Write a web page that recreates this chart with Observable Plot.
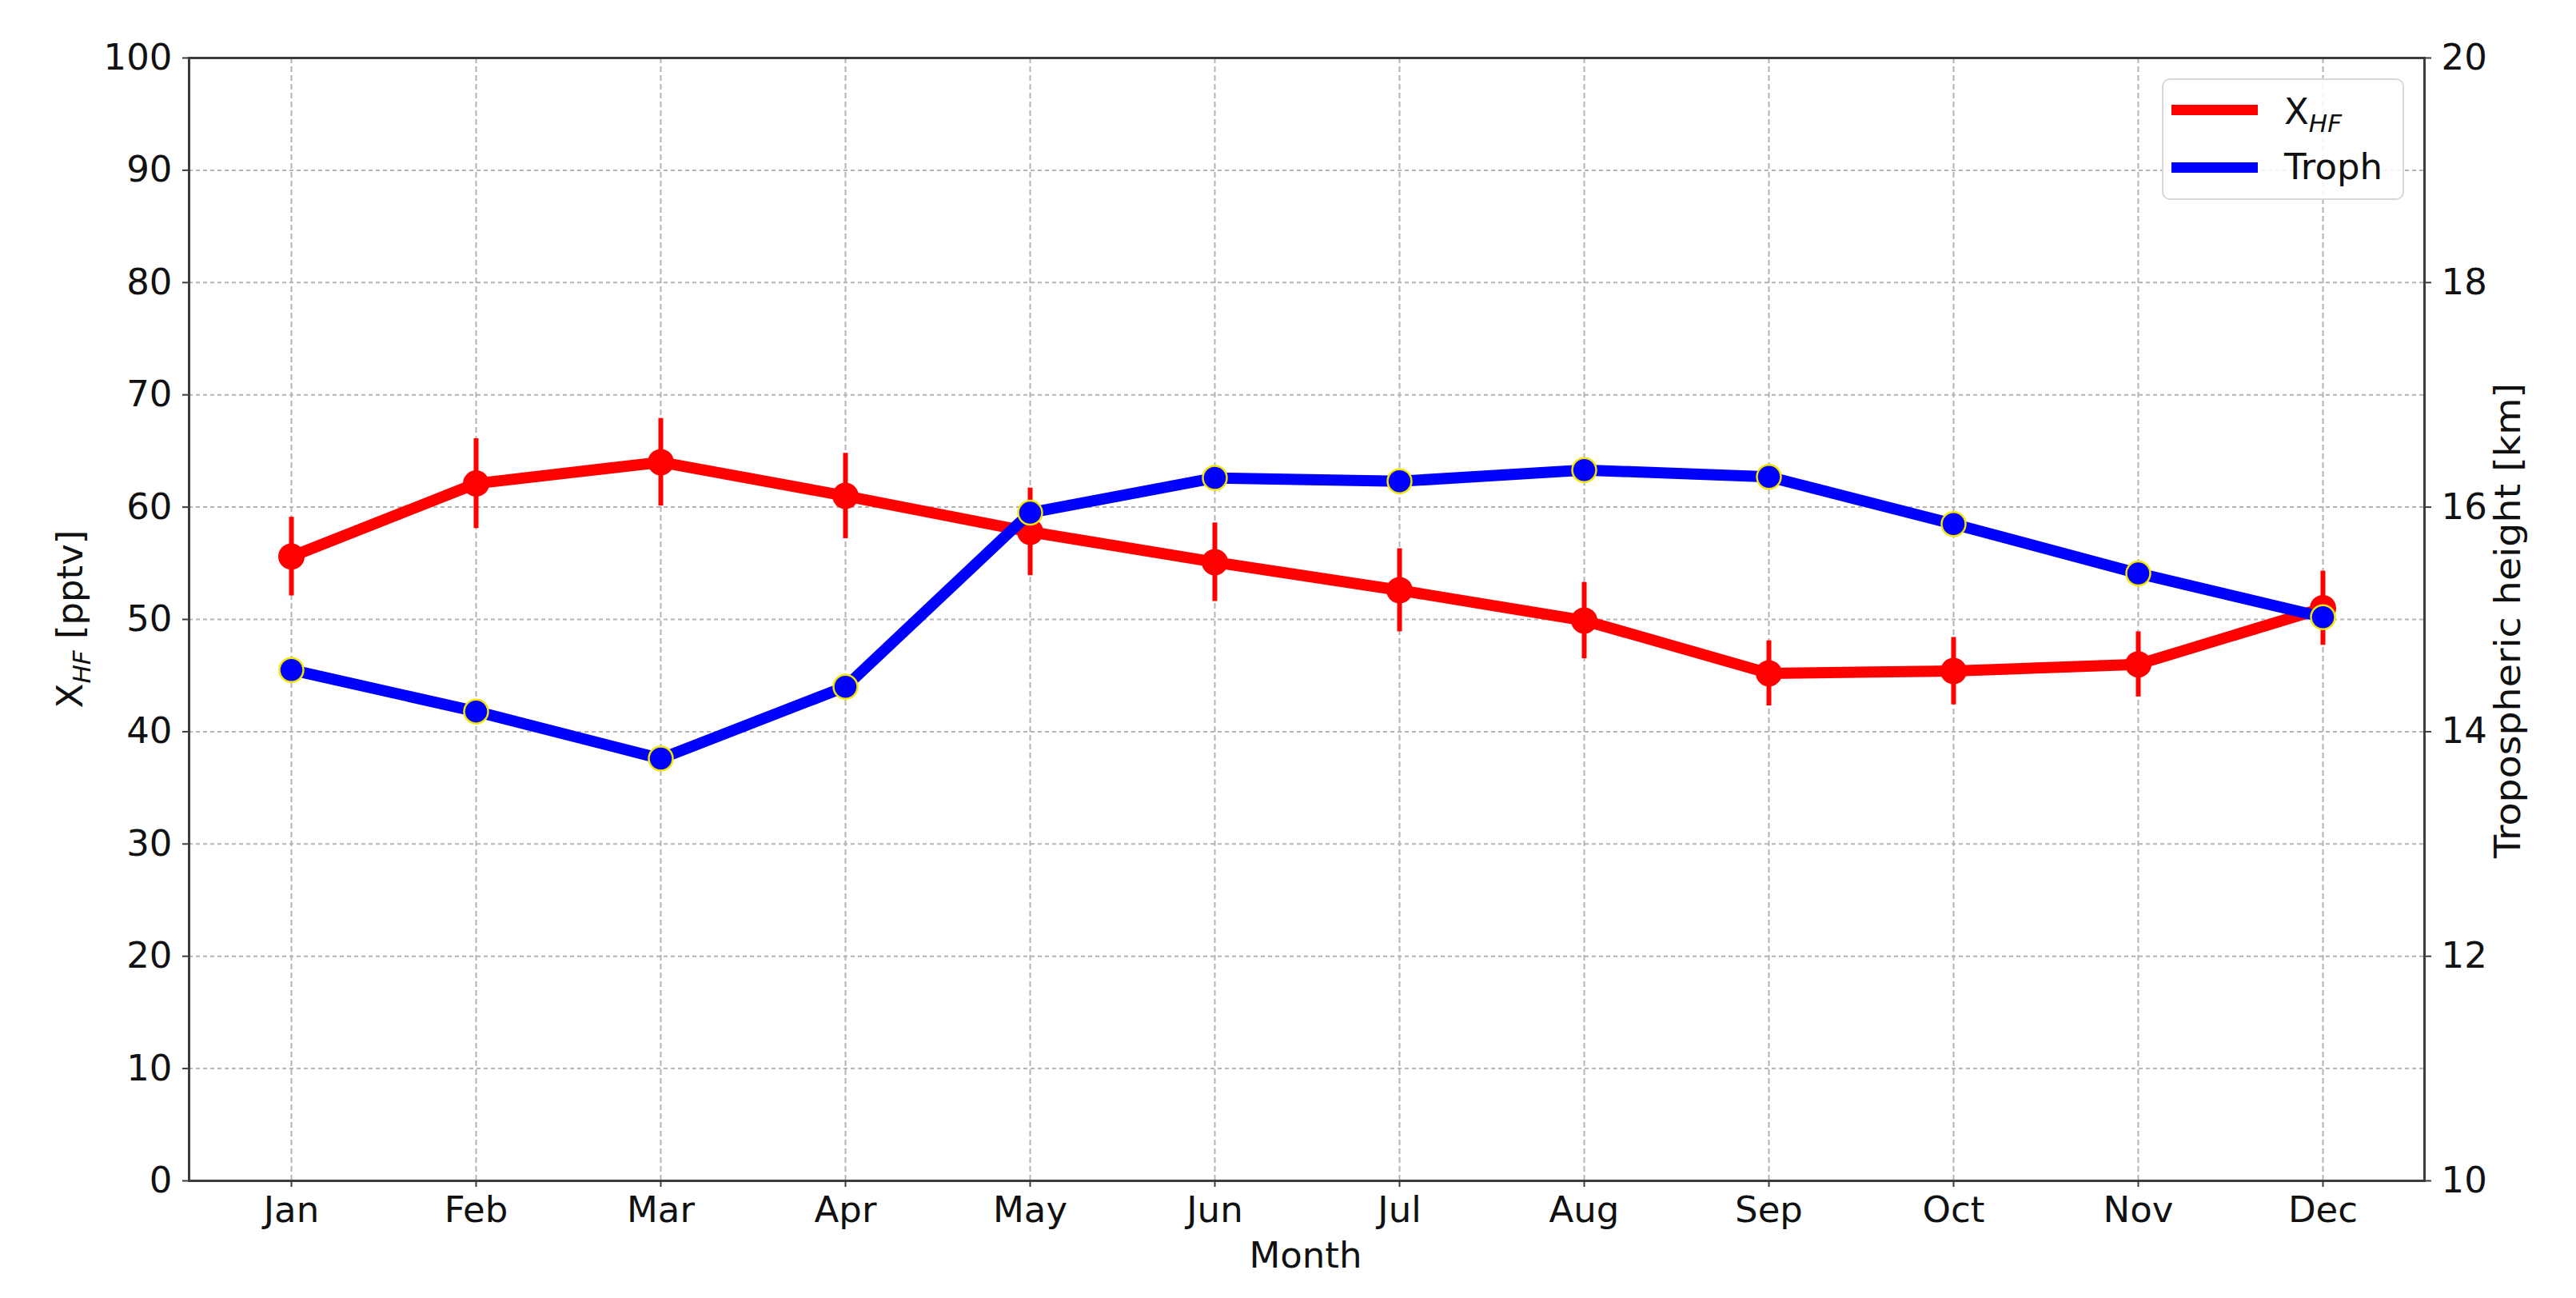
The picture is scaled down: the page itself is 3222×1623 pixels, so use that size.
<!DOCTYPE html>
<html>
<head>
<meta charset="utf-8">
<script src="https://cdn.jsdelivr.net/npm/d3@7"></script>
<script src="https://cdn.jsdelivr.net/npm/@observablehq/plot@0.6"></script>
<style>
  html, body { margin: 0; padding: 0; background: #fff; }
  #wrap { position: relative; width: 3222px; height: 1623px; font-family: "DejaVu Sans", sans-serif; }
  #legend { position: absolute; left: 2704px; top: 98px; width: 303px; height: 152px;
    border: 2px solid #d8d8d8; border-radius: 10px; background: rgba(255,255,255,0.85); box-sizing: border-box; }
  .lg-row { position: absolute; left: 0; height: 60px; width: 100%; }
  .lg-line { position: absolute; left: 10px; width: 108px; height: 13px; }
  .lg-text { position: absolute; left: 151px; font-size: 45px; line-height: 45px; color: #111; white-space: nowrap; }
  .lg-text sub { font-size: 31px; font-style: italic; vertical-align: -10px; line-height: 0; }
</style>
</head>
<body>
<div id="wrap"></div>
<script>
// ---- data ----
const months = ["Jan","Feb","Mar","Apr","May","Jun","Jul","Aug","Sep","Oct","Nov","Dec"];
const xhf    = [55.6, 62.1, 64.0, 61.0, 57.8, 55.1, 52.6, 49.9, 45.2, 45.4, 46.0, 51.0];
const xhfErr = [3.5, 4.0, 3.9, 3.8, 3.9, 3.5, 3.7, 3.4, 2.9, 3.0, 2.9, 3.3];
const troph  = [14.55, 14.18, 13.76, 14.40, 15.95, 16.26, 16.23, 16.33, 16.27, 15.85, 15.41, 15.02];
const leftTicks  = [0, 10, 20, 30, 40, 50, 60, 70, 80, 90, 100];
const rightTicks = [10, 12, 14, 16, 18, 20];
const leftDomain = [0, 100];
const rightDomain = [10, 20];

// right-axis (km) -> left-axis (pptv) value mapping
const toLeft = d3.scaleLinear().domain(rightDomain).range(leftDomain);

const rows = months.map((m, i) => ({
  month: m, xhf: xhf[i], lo: xhf[i] - xhfErr[i], hi: xhf[i] + xhfErr[i],
  troph: troph[i], trophL: toLeft(troph[i])
}));

const font = "DejaVu Sans";
const axisColor = "#3c3c3c";
const gridColor = "#b4b4b4";

const chart = Plot.plot({
  width: 3222,
  height: 1623,
  marginLeft: 236,
  marginRight: 190,
  marginTop: 72,
  marginBottom: 147,
  style: { fontFamily: font, fontSize: "45px", color: "#111", background: "#fff", overflow: "visible" },
  x: { type: "point", domain: months, padding: 0.55, label: null },
  y: { domain: leftDomain, label: null },
  marks: [
    Plot.gridY(leftTicks, { stroke: gridColor, strokeOpacity: 1, strokeWidth: 2, strokeDasharray: "5,4" }),
    Plot.gridX(months, { stroke: gridColor, strokeOpacity: 1, strokeWidth: 2, strokeDasharray: "7,4" }),
    Plot.axisY(leftTicks, { anchor: "left", tickSize: 8, tickPadding: 13, stroke: axisColor, strokeWidth: 2, fontSize: 45, label: null }),
    Plot.axisY(rightTicks.map(toLeft), { anchor: "right", tickSize: 8, tickPadding: 13, stroke: axisColor, strokeWidth: 2, fontSize: 45,
      tickFormat: d => String(Math.round(toLeft.invert(d))), label: null }),
    Plot.axisX(months, { anchor: "bottom", tickSize: 8, tickPadding: 12, stroke: axisColor, strokeWidth: 2, fontSize: 45, label: null }),
    // X_HF with error bars
    Plot.ruleX(rows, { x: "month", y1: "lo", y2: "hi", stroke: "#ff0000", strokeWidth: 6 }),
    Plot.line(rows, { x: "month", y: "xhf", stroke: "#ff0000", strokeWidth: 14, strokeLinejoin: "round" }),
    Plot.dot(rows, { x: "month", y: "xhf", r: 16.5, fill: "#ff0000", stroke: "none" }),
    // Tropopause height on right axis
    Plot.line(rows, { x: "month", y: "trophL", stroke: "#0000ff", strokeWidth: 14, strokeLinejoin: "round" }),
    Plot.dot(rows, { x: "month", y: "trophL", r: 15, fill: "#0000ff", stroke: "#f2e600", strokeWidth: 2.5 }),
    Plot.frame({ stroke: axisColor, strokeWidth: 3 })
  ]
});

const wrap = document.getElementById("wrap");
wrap.appendChild(chart);

// axis titles
const svg = d3.select(chart);
const gT = svg.append("g").attr("font-family", font).attr("fill", "#111");
gT.append("text").attr("x", 1633).attr("y", 1585).attr("text-anchor", "middle")
  .attr("font-size", 45).text("Month");

const yl = gT.append("text").attr("transform", "translate(103,774) rotate(-90)")
  .attr("text-anchor", "middle").attr("font-size", 45);
yl.append("tspan").text("X");
yl.append("tspan").attr("font-size", 31).attr("font-style", "italic").attr("dy", 10).text("HF");
yl.append("tspan").attr("dy", -10).text(" [pptv]");

gT.append("text").attr("transform", "translate(3152,776) rotate(-90)")
  .attr("text-anchor", "middle").attr("font-size", 45)
  .attr("textLength", 594).attr("lengthAdjust", "spacingAndGlyphs")
  .text("Tropospheric height [km]");

// legend
const legend = document.createElement("div");
legend.id = "legend";
legend.innerHTML = `
  <div class="lg-row" style="top:0px">
    <div class="lg-line" style="top:31px;background:#ff0000"></div>
    <div class="lg-text" style="top:17px">X<sub>HF</sub></div>
  </div>
  <div class="lg-row" style="top:72px">
    <div class="lg-line" style="top:31px;background:#0000ff"></div>
    <div class="lg-text" style="top:14px">Troph</div>
  </div>`;
wrap.appendChild(legend);
</script>
</body>
</html>
